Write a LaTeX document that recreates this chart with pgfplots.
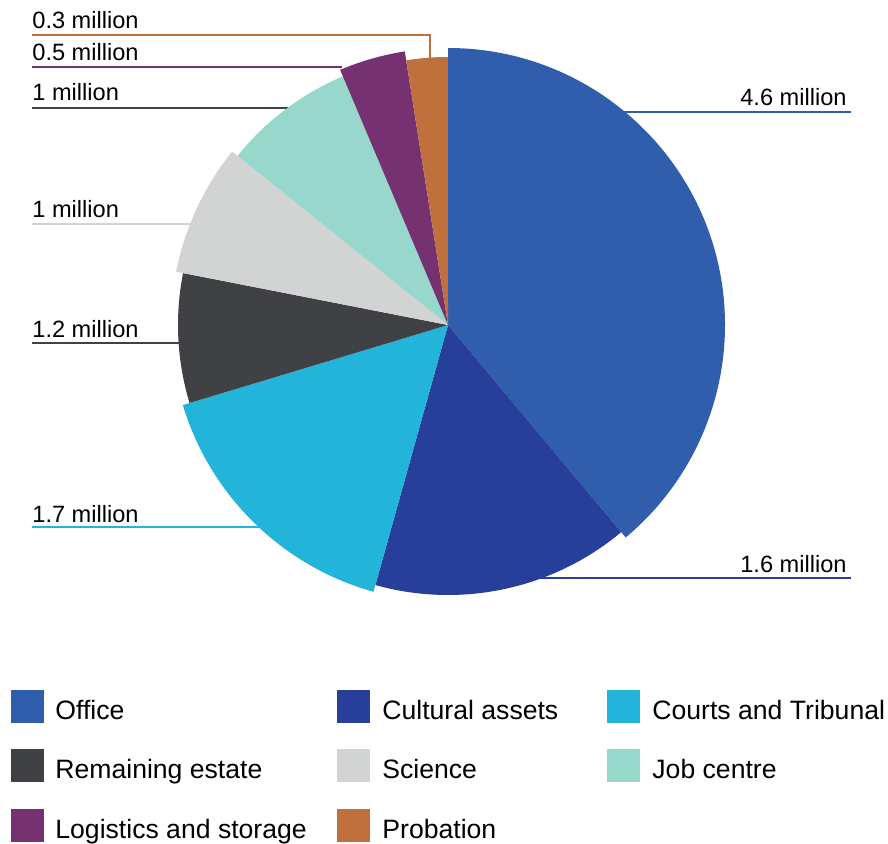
\documentclass[border=0pt]{standalone}
\usepackage{pgfplots}
\pgfplotsset{compat=1.18}
\usepackage{fontspec}
\setmainfont{Liberation Sans}
\definecolor{cOffice}{HTML}{305EAD}
\definecolor{cCultural}{HTML}{273E9B}
\definecolor{cCourts}{HTML}{22B4D9}
\definecolor{cRemaining}{HTML}{404145}
\definecolor{cScience}{HTML}{D2D3D3}
\definecolor{cJob}{HTML}{98D7CC}
\definecolor{cLogistics}{HTML}{753170}
\definecolor{cProbation}{HTML}{C0703D}
\begin{document}
\begin{tikzpicture}[lab/.style={inner sep=0pt, font=\fontsize{11.8}{14}\selectfont},
  leg/.style={anchor=base west, inner sep=0pt, font=\fontsize{13.3}{16}\selectfont}]
\begin{axis}[x=0.5pt,y=0.5pt,xmin=0,xmax=888,ymin=0,ymax=843,hide axis,clip=false]
% leader lines
\addplot[cProbation, line width=1pt] coordinates {(32,808) (430,808) (430,781)};
\addplot[cLogistics, line width=1pt] coordinates {(32,776) (342,776)};
\addplot[cRemaining, line width=1pt] coordinates {(32,735) (320,735)};
\addplot[cScience, line width=1pt] coordinates {(32,619) (250,619)};
\addplot[cRemaining, line width=1pt] coordinates {(32,500) (250,500)};
\addplot[cCourts, line width=1pt] coordinates {(32,316) (300,316)};
\addplot[cOffice, line width=1pt] coordinates {(600,731) (851,731)};
\addplot[cCultural, line width=1pt] coordinates {(520,265) (851,265)};
% slices: value / radius / colour
\gdef\cumangle{90}
\foreach \v/\r/\c in {4.631/277/cOffice, 1.835/270/cCultural, 1.904/277/cCourts, 0.922/270/cRemaining, 0.916/277/cScience, 0.935/270/cJob, 0.461/277/cLogistics, 0.296/268/cProbation}{
  \pgfmathsetmacro\sa{\cumangle}
  \pgfmathsetmacro\ea{\cumangle-\v/11.9*360}
  \pgfmathsetmacro\sx{448+\r*cos(\sa)}
  \pgfmathsetmacro\sy{518+\r*sin(\sa)}
  \pgfmathsetmacro\rr{\r*0.5}
  \edef\temp{\noexpand\fill[\c] (axis cs:448,518) -- (axis cs:\sx,\sy) arc[start angle=\sa, end angle=\ea, radius=\rr pt] -- cycle;}
  \temp
  \xdef\cumangle{\ea}
}
% value labels
\node[lab, anchor=base west] at (axis cs:32,814) {0.3 million};
\node[lab, anchor=base west] at (axis cs:32,783) {0.5 million};
\node[lab, anchor=base west] at (axis cs:32,742) {1 million};
\node[lab, anchor=base west] at (axis cs:32,626) {1 million};
\node[lab, anchor=base west] at (axis cs:32,506) {1.2 million};
\node[lab, anchor=base west] at (axis cs:32,321) {1.7 million};
\node[lab, anchor=base east] at (axis cs:847,738) {4.6 million};
\node[lab, anchor=base east] at (axis cs:847,271) {1.6 million};
% legend
\fill[cOffice] (axis cs:11,120) rectangle (axis cs:44,153);
\fill[cCultural] (axis cs:337,120) rectangle (axis cs:370,153);
\fill[cCourts] (axis cs:607,120) rectangle (axis cs:640,153);
\fill[cRemaining] (axis cs:11,61) rectangle (axis cs:44,94);
\fill[cScience] (axis cs:337,61) rectangle (axis cs:370,94);
\fill[cJob] (axis cs:607,61) rectangle (axis cs:640,94);
\fill[cLogistics] (axis cs:11,1) rectangle (axis cs:44,34);
\fill[cProbation] (axis cs:337,1) rectangle (axis cs:370,34);
\node[leg] at (axis cs:55,124) {Office};
\node[leg] at (axis cs:382,124) {Cultural assets};
\node[leg] at (axis cs:652,124) {Courts and Tribunal};
\node[leg] at (axis cs:55,65) {Remaining estate};
\node[leg] at (axis cs:382,65) {Science};
\node[leg] at (axis cs:652,65) {Job centre};
\node[leg] at (axis cs:55,5) {Logistics and storage};
\node[leg] at (axis cs:382,5) {Probation};
\end{axis}
\pgfresetboundingbox
\path (current axis.south west) rectangle (current axis.north east);
\end{tikzpicture}
\end{document}
